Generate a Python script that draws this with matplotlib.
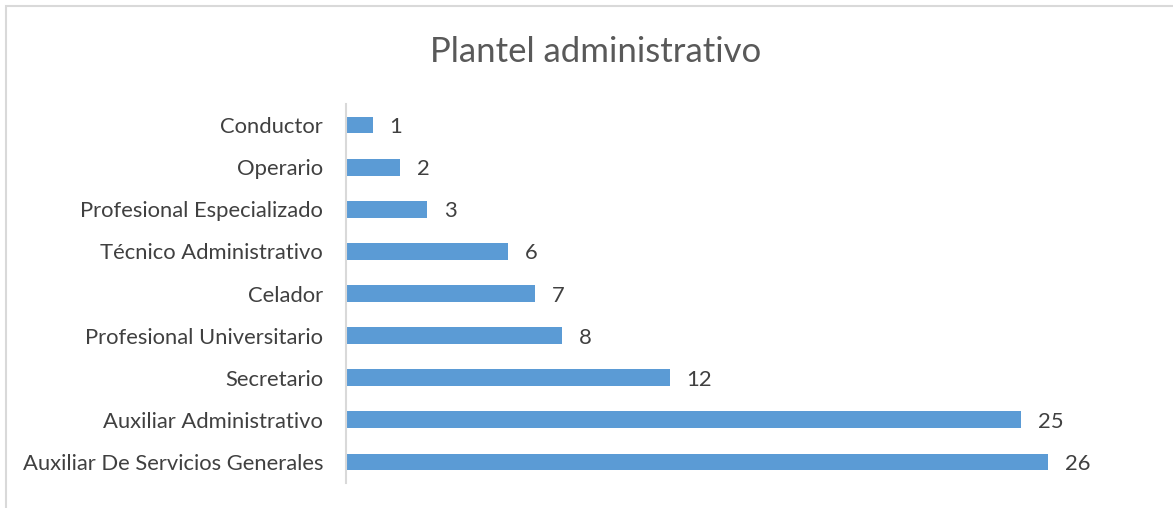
import matplotlib
matplotlib.use("Agg")
import matplotlib.pyplot as plt
from matplotlib.patches import Rectangle

categories = ["Conductor", "Operario", "Profesional Especializado", "Técnico Administrativo",
              "Celador", "Profesional Universitario", "Secretario", "Auxiliar Administrativo",
              "Auxiliar De Servicios Generales"]
values = [1, 2, 3, 6, 7, 8, 12, 25, 26]
title = "Plantel administrativo"

plt.rcParams['font.family'] = ['Lato', 'DejaVu Sans']
W, H = 1173, 508
fig = plt.figure(figsize=(W / 100, H / 100), dpi=100)
fig.patch.set_facecolor("white")

# outer chart border (light gray), extending beyond the image on right/bottom
fig.patches.append(Rectangle((6 / W, -0.1), 1.2, (H - 6) / H + 0.1, transform=fig.transFigure,
                             fill=False, edgecolor="#d9d9d9", linewidth=1.5, figure=fig))

left, right = 346, 346 + 28 * 27
top, bottom = 104, 483
ax = fig.add_axes([left / W, 1 - bottom / H, (right - left) / W, (bottom - top) / H])

y = list(range(len(categories)))
ax.barh(y, values, height=0.4, color="#5B9BD5")
ax.set_ylim(len(categories) - 0.5, -0.5)
ax.set_xlim(0, 28)
ax.set_yticks(y)
ax.set_yticklabels(categories, fontsize=15.8, color="#404040")
ax.tick_params(axis='y', length=0, pad=16.5)
ax.set_xticks([])
for s in ["top", "right", "bottom"]:
    ax.spines[s].set_visible(False)
ax.spines["left"].set_color("#d9d9d9")
ax.spines["left"].set_linewidth(1.5)

for yi, v in zip(y, values):
    ax.annotate(str(v), (v, yi), xytext=(12, -1.5), textcoords="offset points",
                va="center", ha="left", fontsize=15.8, color="#404040")

fig.text(596 / W, 1 - 52 / H, title, ha="center", va="center", fontsize=25, color="#595959")

fig.savefig("out.png", dpi=100)
